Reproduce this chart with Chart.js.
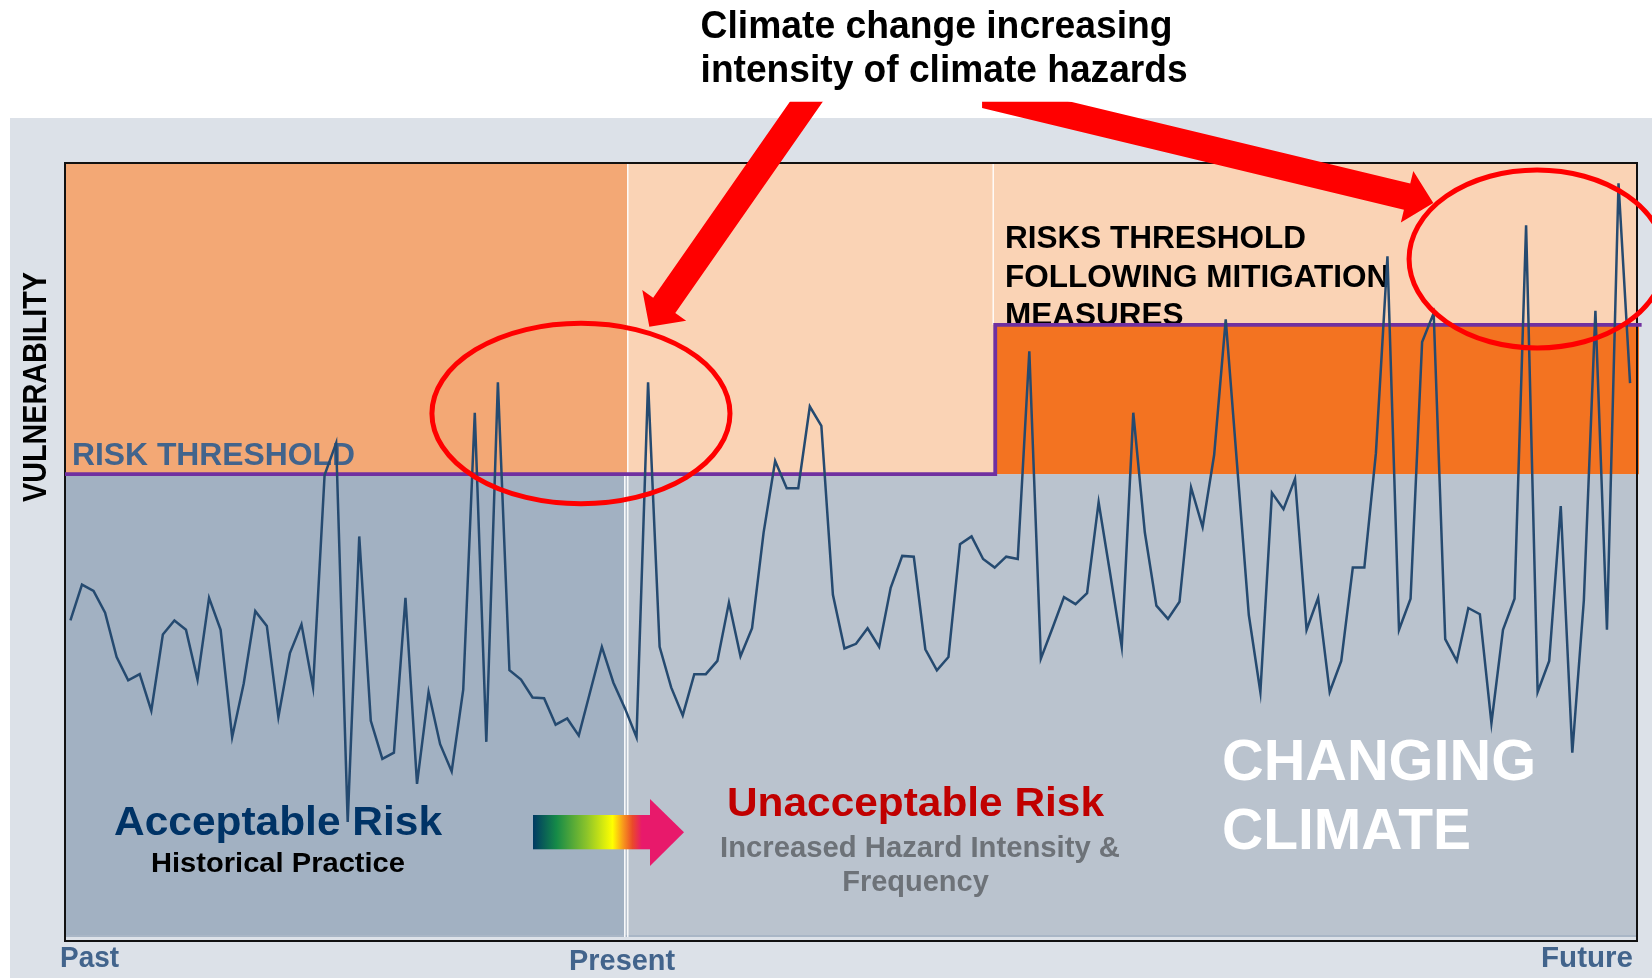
<!DOCTYPE html>
<html>
<head>
<meta charset="utf-8">
<title>Vulnerability and climate risk thresholds</title>
<script src="https://cdn.jsdelivr.net/npm/chart.js@4.4.1/dist/chart.umd.min.js"></script>
<style>
  html, body { margin: 0; padding: 0; background: #ffffff; overflow: hidden; }
  canvas { display: block; }
</style>
</head>
<body>
<canvas id="chart" width="1652" height="978"></canvas>
<script>
// Vulnerability sampled at regular time steps, from the past (step 0) to the future
const vulnerability = [
  41.2, 45.8, 45.0, 42.2, 36.5, 33.5, 34.3, 29.6, 39.4, 41.2,
  40.0, 33.6, 44.1, 40.0, 26.2, 33.1, 42.4, 40.5, 28.8, 37.0,
  40.7, 32.6, 59.9, 64.0, 15.3, 52.0, 28.3, 23.4, 24.2, 44.1,
  20.2, 32.0, 25.3, 21.8, 32.3, 67.9, 25.6, 71.8, 34.8, 33.6,
  31.3, 31.2, 27.8, 28.6, 26.4, 32.1, 37.8, 33.2, 29.9, 26.2,
  71.8, 37.8, 32.6, 29.0, 34.3, 34.3, 36.0, 43.5, 36.6, 40.2,
  52.5, 61.7, 58.2, 58.2, 68.7, 66.2, 44.5, 37.6, 38.2, 40.2,
  37.8, 45.4, 49.5, 49.4, 37.5, 34.8, 36.5, 51.0, 52.0, 49.1,
  48.0, 49.4, 49.1, 75.8, 36.3, 40.2, 44.2, 43.3, 44.7, 56.4,
  47.2, 37.8, 67.9, 52.5, 43.1, 41.4, 43.6, 58.3, 53.2, 62.5,
  79.9, 60.9, 41.9, 32.0, 57.6, 55.5, 59.4, 40.0, 44.1, 32.0,
  36.0, 48.0, 48.0, 62.7, 88.0, 40.0, 44.0, 77.0, 80.7, 38.8,
  36.0, 42.8, 42.0, 28.0, 40.0, 44.0, 92.0, 32.0, 36.0, 55.9,
  24.2, 43.8, 81.0, 40.0, 97.4, 71.7
];

// Risk threshold: historical level, raised after mitigation measures
const thresholdSteps  = [-0.47, 80.05, 80.05, 136];
const thresholdLevels = [60, 60, 79.2, 79.2];
const riskThreshold = 60;
const mitigatedThreshold = 79.2;
const presentStep = 48.2;      // time step where the present begins
const mitigationStep = 80.05;  // time step from which mitigation applies

// Time axis labels and where they sit on the step axis
const timeLabels = ['Past', 'Present', 'Future'];
const timeLabelSteps = [-0.47, 47.75, 135.6];

const FONT = '"Liberation Sans", Arial, Helvetica, sans-serif';

function drawText(ctx, text, x, y, o) {
  ctx.save();
  ctx.font = 'bold ' + o.size + 'px ' + FONT;
  ctx.fillStyle = o.color;
  ctx.textBaseline = 'alphabetic';
  ctx.textAlign = 'left';
  const w = ctx.measureText(text).width;
  const s = o.width ? o.width / w : 1;
  ctx.translate(x, y);
  if (o.rotate) ctx.rotate(o.rotate);
  ctx.scale(s, 1);
  const off = o.align === 'center' ? -w / 2 : (o.align === 'right' ? -w : 0);
  ctx.fillText(text, off, 0);
  ctx.restore();
}

function drawArrow(ctx, tail, tip, shaftW, headW, headL, clipX, clipY) {
  const dx = tip.x - tail.x, dy = tip.y - tail.y, len = Math.hypot(dx, dy);
  const ux = dx / len, uy = dy / len, nx = -uy, ny = ux;
  const bx = tip.x - ux * headL, by = tip.y - uy * headL;
  const tx = tail.x - ux * 80, ty = tail.y - uy * 80;
  ctx.save();
  ctx.beginPath();
  ctx.rect(clipX, clipY, 5000, 5000);
  ctx.clip();
  ctx.beginPath();
  ctx.moveTo(tx + nx * shaftW / 2, ty + ny * shaftW / 2);
  ctx.lineTo(bx + nx * shaftW / 2, by + ny * shaftW / 2);
  ctx.lineTo(bx + nx * headW / 2, by + ny * headW / 2);
  ctx.lineTo(tip.x, tip.y);
  ctx.lineTo(bx - nx * headW / 2, by - ny * headW / 2);
  ctx.lineTo(bx - nx * shaftW / 2, by - ny * shaftW / 2);
  ctx.lineTo(tx - nx * shaftW / 2, ty - ny * shaftW / 2);
  ctx.closePath();
  ctx.fillStyle = '#ff0000';
  ctx.fill();
  ctx.restore();
}

const backdrop = {
  id: 'backdrop',
  beforeDraw(chart) {
    const ctx = chart.ctx;
    ctx.save();
    ctx.fillStyle = '#ffffff';
    ctx.fillRect(0, 0, chart.width, chart.height);
    ctx.fillStyle = '#dce1e8';
    ctx.fillRect(10, 118, chart.width - 10, chart.height - 118);
    ctx.restore();
  },
  beforeDatasetsDraw(chart) {
    const ctx = chart.ctx;
    const { left, right, top, bottom } = chart.chartArea;
    const xs = chart.scales.x, ys = chart.scales.y;
    const xp = xs.getPixelForValue(presentStep);
    const xm = xs.getPixelForValue(mitigationStep);
    const y1 = ys.getPixelForValue(riskThreshold);
    const y2 = ys.getPixelForValue(mitigatedThreshold);
    const fb = bottom - 4;
    ctx.save();
    // risk zones above the threshold
    ctx.fillStyle = '#f3a875';
    ctx.fillRect(left, top, xp - left, y1 - top);
    ctx.fillStyle = '#fad3b5';
    ctx.fillRect(xp, top, right - xp, y1 - top);
    ctx.fillStyle = '#f37321';
    ctx.fillRect(xm, y2, right - xm + 2, y1 - y2);
    // acceptable zones below the threshold
    ctx.fillStyle = '#a2b1c2';
    ctx.fillRect(left, y1, xp - 3 - left, fb - y1);
    ctx.fillStyle = '#bac3ce';
    ctx.fillRect(xp - 3, y1, right - (xp - 3), fb - y1);
    ctx.fillStyle = '#a9b6c6';
    ctx.fillRect(left, fb - 2, right - left, 2);
    // separators
    ctx.strokeStyle = 'rgba(255,255,255,0.9)';
    ctx.lineWidth = 1.5;
    ctx.beginPath();
    ctx.moveTo(xp + 0.5, top); ctx.lineTo(xp + 0.5, y1);
    ctx.moveTo(xp - 2.5, y1); ctx.lineTo(xp - 2.5, fb);
    ctx.moveTo(xp + 0.5, y1); ctx.lineTo(xp + 0.5, fb);
    ctx.moveTo(xm - 2, top); ctx.lineTo(xm - 2, y2);
    ctx.stroke();
    // frame
    ctx.strokeStyle = '#111111';
    ctx.lineWidth = 2;
    ctx.strokeRect(left, top, right - left, bottom - top);
    ctx.restore();

    // zone labels
    drawText(ctx, 'RISK THRESHOLD', 72, 465, { size: 31, color: '#42648c', width: 283 });
    drawText(ctx, 'RISKS THRESHOLD', 1005, 248, { size: 31.5, color: '#000000' });
    drawText(ctx, 'FOLLOWING MITIGATION', 1005, 287, { size: 31.5, color: '#000000' });
    drawText(ctx, 'MEASURES', 1005, 325, { size: 31.5, color: '#000000' });
    drawText(ctx, 'Acceptable Risk', 278, 835, { size: 40, color: '#003366', width: 328, align: 'center' });
    drawText(ctx, 'Historical Practice', 278, 872, { size: 28, color: '#000000', width: 254, align: 'center' });
    drawText(ctx, 'Unacceptable Risk', 915.5, 816, { size: 40, color: '#c00000', width: 377, align: 'center' });
    drawText(ctx, 'Increased Hazard Intensity &', 920, 857, { size: 29, color: '#6d7278', width: 400, align: 'center' });
    drawText(ctx, 'Frequency', 915.5, 891, { size: 29, color: '#6d7278', align: 'center' });
    drawText(ctx, 'CHANGING', 1222, 780, { size: 57, color: '#ffffff', width: 314 });
    drawText(ctx, 'CLIMATE', 1222, 849, { size: 57, color: '#ffffff' });

    // gradient arrow between the two zones
    ctx.save();
    const g = ctx.createLinearGradient(533, 0, 650, 0);
    g.addColorStop(0.00, '#003a63');
    g.addColorStop(0.20, '#158a48');
    g.addColorStop(0.46, '#8cc42a');
    g.addColorStop(0.68, '#ffff00');
    g.addColorStop(0.77, '#f8981c');
    g.addColorStop(0.85, '#ea4a2a');
    g.addColorStop(0.93, '#e8196b');
    g.addColorStop(1.00, '#e8196b');
    ctx.fillStyle = g;
    ctx.fillRect(533, 815, 117.5, 34.3);
    ctx.fillStyle = '#e8196b';
    ctx.beginPath();
    ctx.moveTo(650, 799); ctx.lineTo(684, 832.3); ctx.lineTo(650, 866);
    ctx.closePath();
    ctx.fill();
    ctx.restore();
  },
  afterDatasetsDraw(chart) {
    const ctx = chart.ctx;
    const xs = chart.scales.x, ys = chart.scales.y;
    const P = (i, v) => ({ x: xs.getPixelForValue(i), y: ys.getPixelForValue(v) });
    const RX = (d) => xs.getPixelForValue(d) - xs.getPixelForValue(0);
    const RY = (d) => ys.getPixelForValue(0) - ys.getPixelForValue(d);

    // extreme events circled
    ctx.save();
    ctx.strokeStyle = '#ff0000';
    ctx.lineWidth = 5;
    const e1 = P(44.19, 67.8);
    ctx.beginPath();
    ctx.ellipse(e1.x, e1.y, RX(12.9), RY(11.6), 0, 0, Math.PI * 2);
    ctx.stroke();
    const e2 = P(126.95, 87.66);
    ctx.beginPath();
    ctx.ellipse(e2.x, e2.y, RX(11.08), RY(11.44), 0, 0, Math.PI * 2);
    ctx.stroke();
    ctx.restore();

    // call-out arrows from the heading
    const cutY = ys.getPixelForValue(107.88);
    drawArrow(ctx, P(63.70, 107.88), P(50.11, 78.96), 27, 53.5, 26, 0, cutY);
    drawArrow(ctx, P(78.91, 108.84), P(117.97, 94.85), 27, 53, 27, xs.getPixelForValue(78.91), cutY);

    // heading
    drawText(ctx, 'Climate change increasing', 700.6, 38, { size: 38, color: '#000000', width: 472 });
    drawText(ctx, 'intensity of climate hazards', 700.6, 82, { size: 38, color: '#000000', width: 487 });

    // axis titles
    drawText(ctx, 'VULNERABILITY', 46, 387, { size: 33, color: '#000000', width: 230, align: 'center', rotate: -Math.PI / 2 });
    const aligns = ['left', 'center', 'right'];
    const nudges = [-5, 0, -4];
    const widths = [59, 106, 92];
    const baselines = [967, 970, 967];
    timeLabels.forEach((t, k) => {
      drawText(ctx, t, xs.getPixelForValue(timeLabelSteps[k]) + nudges[k], baselines[k],
        { size: 29, color: '#42648c', width: widths[k], align: aligns[k] });
    });
  }
};

new Chart(document.getElementById('chart'), {
  type: 'line',
  data: {
    datasets: [
      {
        label: 'Vulnerability',
        data: vulnerability.map((v, i) => ({ x: i, y: v })),
        borderColor: '#254a70',
        borderWidth: 2.5,
        pointRadius: 0,
        tension: 0,
        borderJoinStyle: 'miter',
        order: 1
      },
      {
        label: 'Risk threshold',
        data: thresholdSteps.map((s, i) => ({ x: s, y: thresholdLevels[i] })),
        borderColor: '#7030a0',
        borderWidth: 3.8,
        pointRadius: 0,
        tension: 0,
        clip: false,
        borderJoinStyle: 'miter',
        order: 2
      }
    ]
  },
  options: {
    responsive: false,
    animation: false,
    devicePixelRatio: 1,
    events: [],
    layout: { padding: { left: 65, top: 163, right: 15, bottom: 37 } },
    plugins: { legend: { display: false }, tooltip: { enabled: false } },
    scales: {
      x: { type: 'linear', min: -0.47, max: 135.6, display: false },
      y: { type: 'linear', min: 0, max: 100, display: false }
    }
  },
  plugins: [backdrop]
});
</script>
</body>
</html>
